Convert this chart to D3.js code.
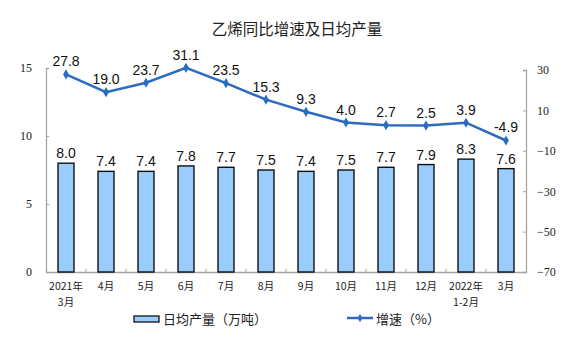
<!DOCTYPE html>
<html><head><meta charset="utf-8">
<script src="https://cdn.jsdelivr.net/npm/d3@7"></script>
<style>
html,body{margin:0;padding:0;background:#fff;}
svg{display:block;}
</style></head>
<body>
<svg id="c" width="575" height="357"></svg>
<script>
const categories = ["2021年\n3月","4月","5月","6月","7月","8月","9月","10月","11月","12月","2022年\n1-2月","3月"];
const output = [8.0,7.4,7.4,7.8,7.7,7.5,7.4,7.5,7.7,7.9,8.3,7.6];
const growth = [27.8,19.0,23.7,31.1,23.5,15.3,9.3,4.0,2.7,2.5,3.9,-4.9];
const leftTicks = [0,5,10,15];
const rightTicks = [-70,-50,-30,-10,10,30];
const title = "乙烯同比增速及日均产量";
const legendBar = "日均产量（万吨）";
const legendLine = "增速（%）";

const svg = d3.select("#c");
const L = 46, R = 526, B = 272, T = 68;
const x = d3.scaleBand().domain(categories).range([L, R]).padding(0);
const yL = d3.scaleLinear().domain([0,15]).range([B, T]);
const yR = d3.scaleLinear().domain([-70,30]).range([B, 70]);
const cjk = "'Noto Sans CJK SC', sans-serif";
const axisCol = "#a6a6a6";
const lineCol = "#2b6cbf";

svg.append("text").attr("x", 297).attr("y", 35).attr("text-anchor","middle")
  .attr("font-family", cjk).attr("font-size", 15.5).attr("fill","#222").text(title);

// left axis
const gl = svg.append("g").attr("transform",`translate(${L},0)`)
  .call(d3.axisLeft(yL).tickValues(leftTicks).tickSize(-3).tickPadding(14).tickFormat(d3.format("d")));
gl.select(".domain").attr("stroke", axisCol).attr("stroke-width",1.3);
gl.selectAll(".tick line").attr("stroke", axisCol);
gl.selectAll(".tick text").attr("font-family","'Liberation Serif', serif").attr("font-size",12).attr("fill","#222");

// right axis
const gr = svg.append("g").attr("transform",`translate(${R},0)`)
  .call(d3.axisRight(yR).tickValues(rightTicks).tickSize(-3).tickPadding(11).tickFormat(d3.format("d")));
gr.select(".domain").attr("stroke", axisCol).attr("stroke-width",1.3);
gr.selectAll(".tick line").attr("stroke", axisCol);
gr.selectAll(".tick text").attr("font-family","'Liberation Serif', serif").attr("font-size",12).attr("fill","#222");

// bottom axis
const gb = svg.append("g").attr("transform",`translate(0,${B})`)
  .call(d3.axisBottom(x).tickSize(0).tickFormat(""));
gb.select(".domain").attr("stroke", axisCol).attr("stroke-width",1.5);
gb.selectAll(".bt").data(categories.slice(1)).join("line")
  .attr("x1", d=>x(d)).attr("x2", d=>x(d)).attr("y1",0).attr("y2",-3)
  .attr("stroke", axisCol);
const labelLines = [];
categories.forEach(c => c.split("\n").forEach((p,i) => labelLines.push({c, p, i})));
svg.append("g").selectAll("text").data(labelLines).join("text")
  .attr("x", d=>x(d.c)+x.bandwidth()/2).attr("y", d=>290 + d.i*15.5)
  .attr("text-anchor","middle").attr("font-family", cjk).attr("font-size",10.5).attr("fill","#222")
  .text(d=>d.p);

// bars
const bw = 16;
svg.append("g").selectAll("rect").data(output).join("rect")
  .attr("x", (d,i)=>x(categories[i])+x.bandwidth()/2-bw/2)
  .attr("y", d=>yL(d)).attr("width", bw).attr("height", d=>B-yL(d))
  .attr("fill","#99ccff").attr("stroke","#111").attr("stroke-width",1.4);
svg.append("g").selectAll("text").data(output).join("text")
  .attr("x", (d,i)=>x(categories[i])+x.bandwidth()/2).attr("y", d=>yL(d)-5)
  .attr("text-anchor","middle").attr("font-family","'Liberation Sans', Arial, sans-serif")
  .attr("font-size",14).attr("fill","#111").text(d=>d.toFixed(1));

// line
const cx = i => x(categories[i])+x.bandwidth()/2;
const line = d3.line().x((d,i)=>cx(i)).y(d=>yR(d));
svg.append("path").datum(growth).attr("d", line).attr("fill","none")
  .attr("stroke", lineCol).attr("stroke-width",2.5);
svg.append("g").selectAll("path").data(growth).join("path")
  .attr("d", d3.symbol(d3.symbolDiamond, 30))
  .attr("transform",(d,i)=>`translate(${cx(i)},${yR(d)})`).attr("fill", lineCol);
svg.append("g").selectAll("text").data(growth).join("text")
  .attr("x", (d,i)=>cx(i)).attr("y", d=>yR(d)-8)
  .attr("text-anchor","middle").attr("font-family","'Liberation Sans', Arial, sans-serif")
  .attr("font-size",14).attr("fill","#111").text(d=>d.toFixed(1));

// legend
svg.append("rect").attr("x",134).attr("y",316).attr("width",25).attr("height",6)
  .attr("fill","#99ccff").attr("stroke","#111").attr("stroke-width",1.3);
svg.append("text").attr("x",163).attr("y",324).attr("font-family",cjk).attr("font-size",13)
  .attr("fill","#222").text(legendBar);
svg.append("line").attr("x1",347).attr("x2",373).attr("y1",318).attr("y2",318)
  .attr("stroke", lineCol).attr("stroke-width",2.5);
svg.append("path").attr("d", d3.symbol(d3.symbolDiamond, 20)).attr("transform","translate(360,318)").attr("fill",lineCol);
svg.append("text").attr("x",376).attr("y",324).attr("font-family",cjk).attr("font-size",13)
  .attr("fill","#222").text(legendLine);
</script>
</body></html>
